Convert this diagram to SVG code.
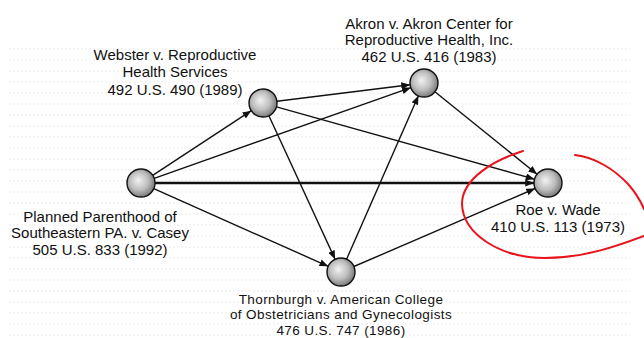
<svg xmlns="http://www.w3.org/2000/svg" width="644" height="338" viewBox="0 0 644 338">
  <defs>
    <style>
      .lbl { font-family: "Liberation Sans", Arial, Helvetica, sans-serif; font-size: 15px; fill: #111; text-anchor: middle; }
      .sm { font-size: 13.5px; letter-spacing: 0.4px; }
      .edge { stroke: #111; stroke-width: 1.4; fill: none; marker-end: url(#arrow); }
      .thick { stroke-width: 2.6; }
      .node { fill: url(#sphere); stroke: #111; stroke-width: 1.4; }
      .ink { stroke: #e8141c; stroke-width: 2; fill: none; stroke-linecap: round; }
    </style>
    <radialGradient id="sphere" cx="45%" cy="45%" r="60%" fx="40%" fy="40%">
      <stop offset="0" stop-color="#f2f2f2"/>
      <stop offset="0.55" stop-color="#bdbdbd"/>
      <stop offset="1" stop-color="#6e6e6e"/>
    </radialGradient>
    <marker id="arrow" viewBox="0 0 10 8" refX="10" refY="4" markerWidth="9" markerHeight="7" markerUnits="userSpaceOnUse" orient="auto">
      <path d="M0,0 L10,4 L0,8 z" fill="#111"/>
    </marker>
    <pattern id="dots" width="4" height="11" patternUnits="userSpaceOnUse">
      <circle cx="2" cy="5" r="0.7" fill="#e2e2e2"/>
    </pattern>
  </defs>

  <rect x="0" y="0" width="644" height="338" fill="#ffffff"/>
  <rect x="8" y="44" width="622" height="294" fill="url(#dots)"/>

  <g id="connectors">
    <line class="edge" x1="152.7" y1="175.3" x2="251.3" y2="110.7"/>
    <line class="edge" x1="154.2" y1="178.3" x2="410.8" y2="87.7"/>
    <line class="edge thick" x1="155" y1="183" x2="534" y2="183"/>
    <line class="edge" x1="153.8" y1="188.7" x2="328.2" y2="266.3"/>
    <line class="edge" x1="276.9" y1="101.3" x2="410.1" y2="84.7"/>
    <line class="edge" x1="276.5" y1="106.8" x2="534.5" y2="179.2"/>
    <line class="edge" x1="268.9" y1="115.7" x2="335.1" y2="259.3"/>
    <line class="edge" x1="346.6" y1="259.2" x2="418.4" y2="95.8"/>
    <line class="edge" x1="353.9" y1="266.5" x2="535.1" y2="188.5"/>
    <line class="edge" x1="434.9" y1="91.8" x2="537.1" y2="174.2"/>
  </g>

  <g id="webster">
    <circle class="node" cx="263" cy="103" r="14"/>
    <text class="lbl" x="175" y="60">Webster v. Reproductive</text>
    <text class="lbl" x="175" y="77.3">Health Services</text>
    <text class="lbl" x="175" y="95">492 U.S. 490 (1989)</text>
  </g>

  <g id="akron">
    <circle class="node" cx="424" cy="83" r="14"/>
    <text class="lbl" x="429" y="28.5">Akron v. Akron Center for</text>
    <text class="lbl" x="429" y="45">Reproductive Health, Inc.</text>
    <text class="lbl" x="429" y="61.5">462 U.S. 416 (1983)</text>
  </g>

  <g id="casey">
    <circle class="node" cx="141" cy="183" r="14"/>
    <text class="lbl" x="100" y="221.7">Planned Parenthood of</text>
    <text class="lbl" x="100" y="238.3">Southeastern PA. v. Casey</text>
    <text class="lbl" x="100" y="255">505 U.S. 833 (1992)</text>
  </g>

  <g id="roe">
    <circle class="node" cx="548" cy="183" r="14"/>
    <text class="lbl" x="558" y="215">Roe v. Wade</text>
    <text class="lbl" x="558" y="231.7">410 U.S. 113 (1973)</text>
  </g>

  <g id="thornburgh">
    <circle class="node" cx="341" cy="272" r="14"/>
    <text class="lbl sm" x="341" y="303.5">Thornburgh v. American College</text>
    <text class="lbl sm" x="341" y="319.3">of Obstetricians and Gynecologists</text>
    <text class="lbl sm" x="341" y="334.8">476 U.S. 747 (1986)</text>
  </g>

  <g id="annotation">
    <path class="ink" d="M523,151 C495,160 462,178 462,204 C463,234 500,258 545,258 C585,258 620,245 644,236"/>
    <path class="ink" d="M575,155 C595,157 615,170 628,184 C636,193 641,202 644,209"/>
  </g>
</svg>
